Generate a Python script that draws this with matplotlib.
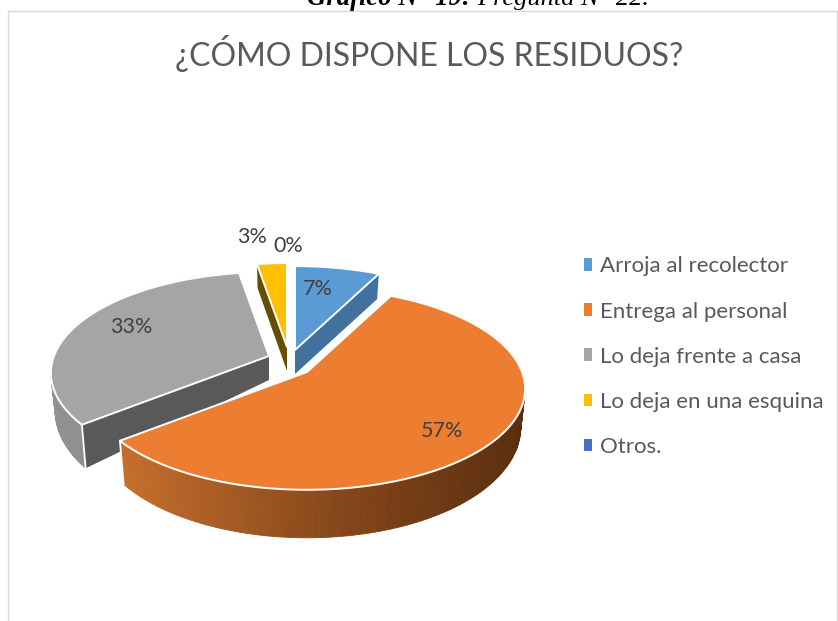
import numpy as np
import matplotlib
matplotlib.use('Agg')
import matplotlib.pyplot as plt
from matplotlib.collections import PolyCollection
from matplotlib.colors import to_rgb
from matplotlib.patches import Patch, Polygon

plt.rcParams['font.family'] = ['Lato', 'DejaVu Sans']

categories = ['Arroja al recolector', 'Entrega al personal', 'Lo deja frente a casa',
              'Lo deja en una esquina', 'Otros.']
values = [7.4, 56.8, 33.2, 2.6, 0.0]
colors = ['#5b9bd5', '#ed7d31', '#a5a5a5', '#ffc000', '#4472c4']
side_colors = ['#41719c', '#ed7d31', '#595959', '#664d00', '#2f5597']
title = '¿CÓMO DISPONE LOS RESIDUOS?'

# pixel layout of the fake 3d pie
centers = [(295, 350), (307, 372), (269, 356), (287, 347), (291, 347)]
label_offsets = [(23, -61), (135, 59), (-138, -29), (-35, -110), (-3, -101)]
rx, ry, persp = 215, 98, 0.168


def project(center, theta, depth=0.0):
    d = np.cos(theta)
    s = 1 / (1 + persp * d)
    x = center[0] + rx * np.sin(theta) * s * (1 - depth * 0.02)
    y = center[1] - ry * d * s
    return x, y + depth * (36 - 12 * d)


def side_gradient(i, t):
    if i == 1:
        stops = ['#c66f2c', '#8a4a1c', '#5a2d0e']
    else:
        stops = ['#929292', '#858585', '#7b7b7b']
    a = np.array([to_rgb(c) for c in stops])
    return [np.interp(t, [0, 0.5, 1], a[:, k]) for k in range(3)]


def draw_slice(ax, i, start, end):
    c = centers[i]
    theta = np.linspace(start, end, 160)
    tx, ty = project(c, theta)
    bx, by = project(c, theta, 1.0)
    apex_depth = 24

    # radial side faces, then the outer rim
    for a, ax_i, ay_i in [(start, tx[0], ty[0]), (end, tx[-1], ty[-1])]:
        bx_i, by_i = project(c, a, 1.0)
        pts = [(c[0], c[1]), (ax_i, ay_i), (bx_i, by_i), (c[0], c[1] + apex_depth)]
        ax.add_patch(Polygon(pts, closed=True, facecolor=side_colors[i], edgecolor='none'))

    quads, quad_colors = [], []
    span = max(tx.max() - tx.min(), 1)
    for k in range(len(theta) - 1):
        quads.append([(tx[k], ty[k]), (tx[k + 1], ty[k + 1]), (bx[k + 1], by[k + 1]), (bx[k], by[k])])
        quad_colors.append(side_gradient(i, (tx[k] - tx.min()) / span))
    if i in (1, 2):
        ax.add_collection(PolyCollection(quads, facecolors=quad_colors, edgecolors=quad_colors, linewidths=0.6))
        tip = 0 if i == 2 else -1
        ax.plot([tx[tip], bx[tip]], [ty[tip], by[tip]], color='white', lw=1.3)

    pts = [c] + list(zip(tx, ty))
    ax.add_patch(Polygon(pts, closed=True, facecolor=colors[i], edgecolor='white', lw=1.4, joinstyle='round'))


fig = plt.figure(figsize=(8.38, 6.21), dpi=100)
ax = fig.add_axes([0, 0, 1, 1])
ax.set_xlim(0, 838)
ax.set_ylim(621, 0)
ax.axis('off')

# chart frame, cut off by the page at the bottom
ax.plot([8, 8, 837, 837], [621, 10.5, 10.5, 621], color='#d9d9d9', lw=1)

# caption of the document, cropped by the top of the page
ax.text(307, 5, 'Gráfico N° 19:', family='Liberation Serif', style='italic', weight='bold',
        fontsize=19.3, color='black', va='baseline', ha='left')
ax.text(477, 5, 'Pregunta N° 22.', family='Liberation Serif', style='italic',
        fontsize=19, color='black', va='baseline', ha='left')

ax.text(429.5, 54, title, ha='center', va='center', fontsize=23, color='#595959')

fractions = np.cumsum([0] + values) / sum(values) * 2 * np.pi
for i in [4, 0, 3, 2, 1]:
    if values[i] > 0:
        draw_slice(ax, i, fractions[i], fractions[i + 1])

for i, v in enumerate(values):
    ax.text(centers[i][0] + label_offsets[i][0], centers[i][1] + label_offsets[i][1],
            '%.0f%%' % v, ha='center', va='center', fontsize=15.5, color='#404040')

handles = [Patch(facecolor=c, edgecolor='none') for c in colors]
ax.legend(handles, categories, loc='upper left', bbox_to_anchor=(0.697, 0.587), frameon=False,
          fontsize=16.0, labelcolor='#595959', handlelength=0.36, handleheight=0.5,
          handletextpad=0.36, labelspacing=1.13, borderpad=0, borderaxespad=0)

fig.savefig('out.png', dpi=100)
